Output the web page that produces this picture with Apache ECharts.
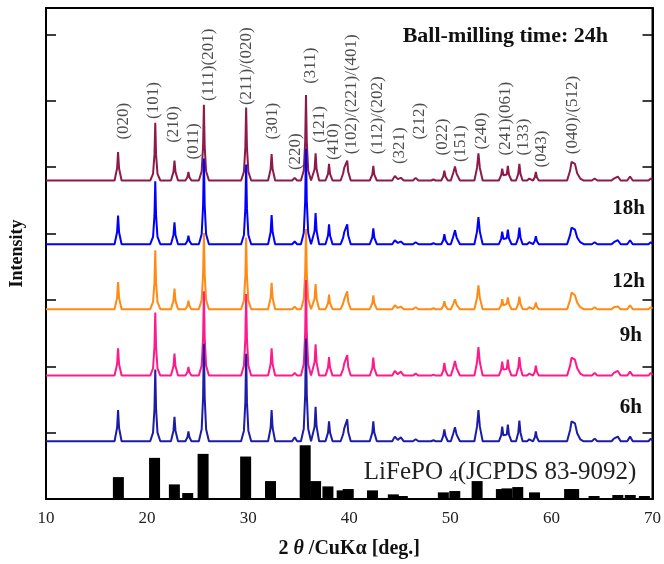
<!DOCTYPE html>
<html>
<head>
<meta charset="utf-8">
<script src="https://cdn.jsdelivr.net/npm/echarts@6/dist/echarts.min.js"></script>
<style>
html,body{margin:0;padding:0;background:#fff;}
#chart{width:664px;height:564px;}
</style>
</head>
<body>
<div id="chart"></div>
<script>
// ---- DATA ----
// shared 2theta sample points of the measured patterns
const twoTheta = [10,
 16.78,17.03,17.13,17.23,17.48,
 20.31,20.59,20.73,20.81,20.89,21.03,21.31,
 22.36,22.61,22.71,22.81,23.06,
 23.79,23.99,24.09,24.19,24.39,
 25.12,25.40,25.54,25.62,25.70,25.84,26.12,
 29.30,29.58,29.72,29.80,29.88,30.02,30.30,
 31.97,32.22,32.32,32.42,32.67,
 34.35,34.60,34.85,
 35.22,35.50,35.64,35.72,35.80,35.94,36.22,
 36.32,36.57,36.67,36.77,37.02,
 37.65,37.90,38.00,38.10,38.35,
 39.15,39.40,39.50,39.62,39.80,39.90,40.15,
 42.03,42.28,42.38,42.48,42.73,
 44.25,44.51,44.80,45.10,45.40,
 46.30,46.57,46.85,
 48.10,48.33,48.55,
 49.10,49.30,49.41,49.52,49.75,
 50.05,50.30,50.46,50.62,50.95,
 52.38,52.64,52.78,52.92,53.20,
 54.80,55.03,55.13,55.25,55.40,55.58,55.69,55.80,56.05,
 56.50,56.72,56.83,56.94,57.15,
 57.60,57.81,58.00,
 58.18,58.36,58.46,58.56,58.75,
 61.55,61.85,61.99,62.15,62.33,62.55,62.85,63.20,
 64.00,64.28,64.55,
 65.95,66.18,66.35,66.57,66.85,
 67.50,67.78,68.05,
 69.60,69.83,70.00];

// intensities (a.u., relative to each pattern's own baseline)
const int24h = [0,
 0,18,43,18,0,
 0,10,39,87,39,10,0,
 0,13,30,13,0,
 0,5,13,5,0,
 0,14,51,114,51,14,0,
 0,13,50,110,50,13,0,
 0,17,40,17,0,
 0,4,0,
 0,15,58,129,58,15,0,
 0,17,41,17,0,
 0,10,25,10,0,
 0,11,19,17,30,13,0,
 0,9,22,9,0,
 0,7,2,4,0,
 0,4,0,
 0,1.5,0,
 0,6,15,6,0,
 0,12,21,10,0,
 0,19,41,19,0,
 0,8,18,8,6,9,22,9,0,
 0,10,25,10,0,
 0,3,0,
 0,5,13,5,0,
 0,15,28,25,25,11,3,0,
 0,3,0,
 0,3,1,6,0,
 0,6,0,
 0,3,1];

const int18h = [0,
 0,18,43,18,0,
 0,11,43,95,43,11,0,
 0,14,33,14,0,
 0,5,13,5,0,
 0,15,58,129,58,15,0,
 0,14,54,120,54,14,0,
 0,18,44,18,0,
 0,4,0,
 0,17,65,144,65,17,0,
 0,20,47,20,0,
 0,13,30,13,0,
 0,10,18,16,30,13,0,
 0,10,24,10,0,
 0,6,2,4,0,
 0,3,0,
 0,1.5,0,
 0,6,15,6,0,
 0,12,21,10,0,
 0,19,41,19,0,
 0,8,19,8,6,9,22,9,0,
 0,10,25,10,0,
 0,3,0,
 0,5,12,5,0,
 0,14,25,22,22,10,3,0,
 0,3,0,
 0,3,1,6,0,
 0,6,0,
 0,3,1];

const int12h = [0,
 0,17,41,17,0,
 0,11,40,89,40,11,0,
 0,13,31,13,0,
 0,5,13,5,0,
 0,14,52,115,52,14,0,
 0,13,49,108,49,13,0,
 0,17,40,17,0,
 0,4,0,
 0,15,54,121,54,15,0,
 0,16,38,16,0,
 0,9,22,9,0,
 0,9,15,13,27,11,0,
 0,9,21,9,0,
 0,6,2,4,0,
 0,3,0,
 0,1.5,0,
 0,5,12,5,0,
 0,8,15,7,0,
 0,17,36,17,0,
 0,6,15,6,5,8,18,8,0,
 0,8,19,8,0,
 0,3,0,
 0,4,10,4,0,
 0,14,25,23,21,10,3,0,
 0,3,0,
 0,3,1,4,0,
 0,6,0,
 0,3,1];

const int9h = [0,
 0,17,41,17,0,
 0,11,43,95,43,11,0,
 0,14,33,14,0,
 0,5,13,5,0,
 0,15,57,127,57,15,0,
 0,15,55,123,55,15,0,
 0,17,41,17,0,
 0,4,0,
 0,17,65,144,65,17,0,
 0,20,47,20,0,
 0,12,28,12,0,
 0,10,18,16,31,13,0,
 0,11,27,11,0,
 0,7,2,6,0,
 0,3,0,
 0,1.5,0,
 0,8,19,8,0,
 0,12,22,11,0,
 0,20,43,20,0,
 0,9,21,9,7,10,24,10,0,
 0,12,28,12,0,
 0,3,0,
 0,6,15,6,0,
 0,15,27,24,24,11,3,0,
 0,4,0,
 0,4,1,7,0,
 0,6,0,
 0,4,1];

const int6h = [0,
 0,20,47,20,0,
 0,13,49,108,49,13,0,
 0,16,37,16,0,
 0,6,15,6,0,
 0,18,66,147,66,18,0,
 0,16,59,132,59,16,0,
 0,20,47,20,0,
 0,6,0,
 0,19,70,155,70,19,0,
 0,22,52,22,0,
 0,13,30,13,0,
 0,11,19,17,33,14,0,
 0,13,30,13,0,
 0,7,2,6,0,
 0,3,0,
 0,1.5,0,
 0,8,18,8,0,
 0,12,21,10,0,
 0,22,47,22,0,
 0,9,22,9,7,10,25,10,0,
 0,13,31,13,0,
 0,3,0,
 0,6,15,6,0,
 0,17,30,27,27,12,3,0,
 0,4,0,
 0,4,1,7,0,
 0,7,0,
 0,4,1];

const patternNames = ['24h','18h','12h','9h','6h'];
const patternOffsets = [480, 384, 286, 186, 87];

// JCPDS 83-9092 reference lines
const refPos = [17.16,20.74,22.70,24.02,25.54,29.75,32.21,35.64,36.67,37.89,39.30,39.90,42.30,44.36,45.25,49.31,50.44,52.65,55.05,55.60,56.67,58.33,61.80,62.20,64.22,66.57,67.80,69.20];
const refInt = [33,62,22,9,68,64,27,81,27,19,13,15,13,7,4.5,10,12,27,15,16,18,10,15,15,4.5,6,6,4.5];

// Miller index annotations
const hklLabels = ['(020)','(101)','(210)','(011)','(111)(201)','(211)/(020)','(301)','(220)','(311)','(121)','(410)','(102)/(221)/(401)','(112)/(202)','(321)','(212)','(022)','(151)','(240)','(241)(061)','(133)','(043)','(040)/(512)'];
const hklX = [17.70,20.72,22.68,24.64,26.10,29.92,32.48,34.74,36.20,37.08,38.46,40.31,42.86,45.02,46.98,49.24,51.10,53.16,55.51,57.27,59.04,62.18];
const hklY = [541,572,536,511,599,593,541,495,625,536,510,519,519,504,541,517,507,526,517,517,499,519];

const xTicks = [10,20,30,40,50,60,70];

// ---- CHART ----
const patterns = [int24h,int18h,int12h,int9h,int6h];
const colors = ['#8c1a4a','#0000ff','#ff8a14','#ff1a8c','#1c1ca6'];
const serif = '"Liberation Serif","Times New Roman",serif';

const series = [];
series.push({
  type:'bar', name:'JCPDS', data: refPos.map((x,i)=>[x, refInt[i]]),
  barWidth: 11, barGap:'-100%', itemStyle:{color:'#000'}, silent:true, z:1
});
patterns.forEach((arr, k) => {
  series.push({
    type:'line', name: patternNames[k],
    data: twoTheta.map((x,i)=>[x, arr[i] + patternOffsets[k]]),
    showSymbol:false, symbol:'none',
    lineStyle:{color:colors[k], width:2},
    itemStyle:{color:colors[k]},
    silent:true, z: 2 + k
  });
});
series.push({
  type:'scatter', name:'hkl',
  data: hklX.map((x,i)=>({value:[x, hklY[i]], name: hklLabels[i]})),
  symbol:'circle', symbolSize:1, itemStyle:{color:'rgba(0,0,0,0)'},
  silent:true, z:10,
  label:{show:true, formatter:p=>p.name, rotate:90, position:[0,0],
    align:'left', verticalAlign:'middle',
    fontFamily:serif, fontSize:17, color:'#222'}
});

const chart = echarts.init(document.getElementById('chart'));
chart.setOption({
  animation:false,
  backgroundColor:'#fff',
  grid:{left:43, right:8, top:8, bottom:57, show:true, borderColor:'#000', borderWidth:2, backgroundColor:'transparent'},
  xAxis:{type:'value', min:xTicks[0], max:xTicks[xTicks.length-1], interval:10,
    axisLine:{show:true, lineStyle:{color:'#000', width:2}},
    axisTick:{show:false}, splitLine:{show:false},
    axisLabel:{fontFamily:serif, fontSize:17, color:'#222', margin:11},
    name:'{b|2 }{i|θ}{b| /CuKα [deg.]}', nameLocation:'middle', nameGap:40,
    nameTextStyle:{rich:{
      b:{fontFamily:serif, fontSize:20, fontWeight:'bold', color:'#111'},
      i:{fontFamily:serif, fontSize:20, fontWeight:'bold', fontStyle:'italic', color:'#111'}}}
  },
  yAxis:[{type:'value', min:0, max:740, interval:100, position:'left',
    axisLine:{show:true, lineStyle:{color:'#000', width:2}},
    axisTick:{show:true, inside:true, length:10, lineStyle:{color:'#000', width:1.5}},
    axisLabel:{show:false}, splitLine:{show:false},
    name:'Intensity', nameLocation:'middle', nameRotate:90, nameGap:20,
    nameTextStyle:{fontFamily:serif, fontSize:18, fontWeight:'bold', color:'#111'}
  },{type:'value', min:0, max:740, interval:100, position:'right',
    axisLine:{show:true, lineStyle:{color:'#000', width:2}},
    axisTick:{show:true, inside:true, length:10, lineStyle:{color:'#000', width:1.5}},
    axisLabel:{show:false}, splitLine:{show:false}
  }],
  series: series,
  graphic:[
    {type:'text', style:{text:'Ball-milling time: 24h', x:608, y:36, textAlign:'right', textVerticalAlign:'middle', font:'bold 22px '+serif, fill:'#111'}},
    {type:'text', style:{text:'18h', x:645, y:209, textAlign:'right', textVerticalAlign:'middle', font:'bold 21px '+serif, fill:'#111'}},
    {type:'text', style:{text:'12h', x:645, y:282, textAlign:'right', textVerticalAlign:'middle', font:'bold 21px '+serif, fill:'#111'}},
    {type:'text', style:{text:'9h', x:642, y:336, textAlign:'right', textVerticalAlign:'middle', font:'bold 21px '+serif, fill:'#111'}},
    {type:'text', style:{text:'6h', x:642, y:408, textAlign:'right', textVerticalAlign:'middle', font:'bold 21px '+serif, fill:'#111'}},
    {type:'text', style:{text:'{a|LiFePO }{s|4}{a|(JCPDS 83-9092)}', x:500, y:472, textAlign:'center', textVerticalAlign:'middle',
      rich:{a:{fontFamily:serif, fontSize:25, fill:'#222', color:'#222'}, s:{fontFamily:serif, fontSize:17, fill:'#222', color:'#222', padding:[10,0,0,0]}}}}
  ]
});
</script>
</body>
</html>
